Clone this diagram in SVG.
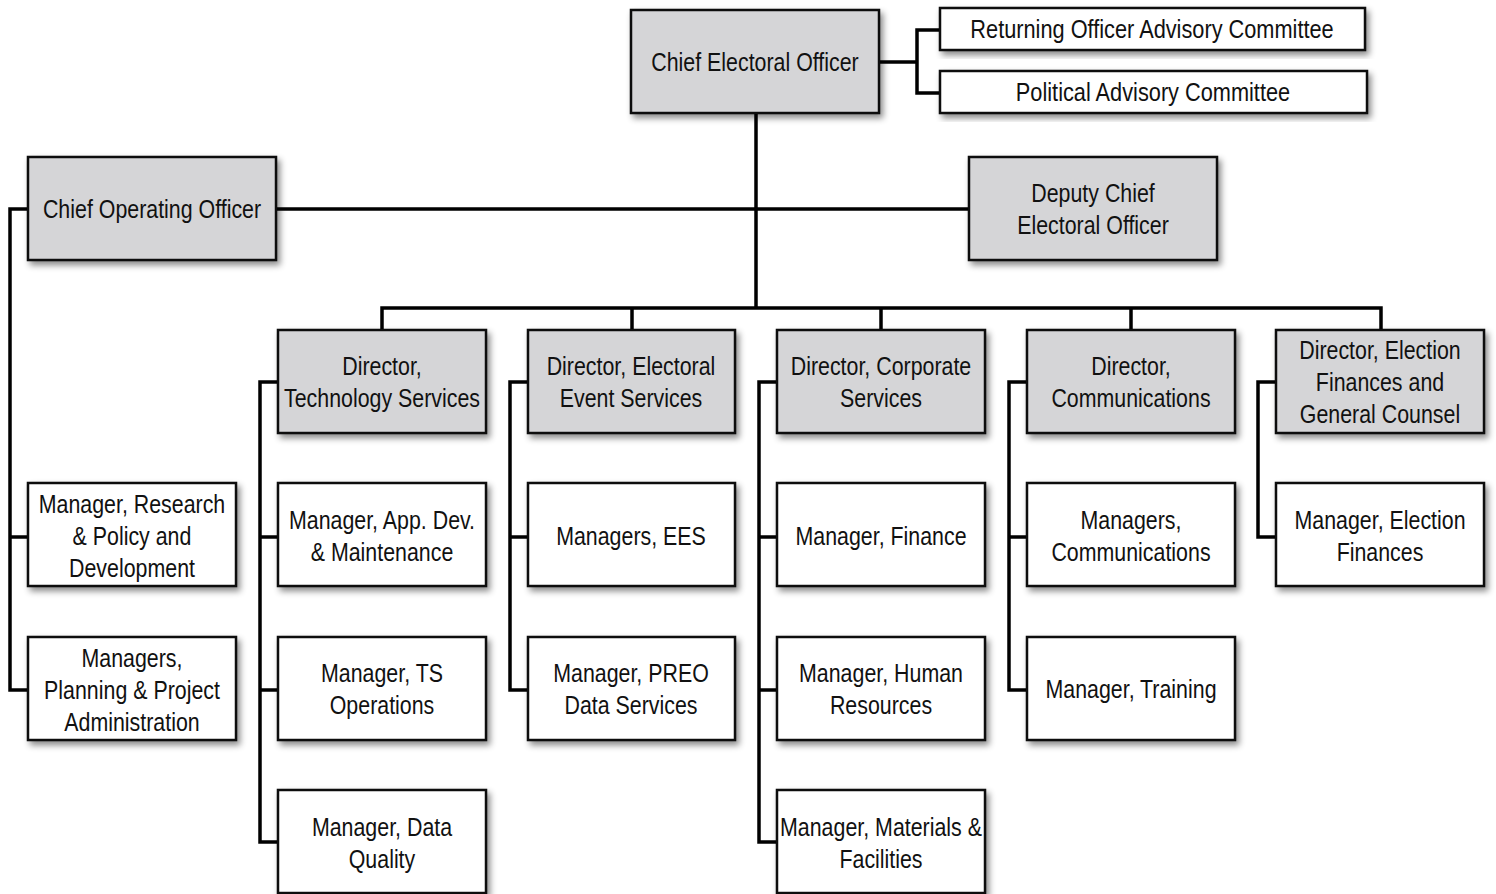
<svg xmlns="http://www.w3.org/2000/svg" width="1496" height="894" viewBox="0 0 1496 894">
<defs>
<filter id="sh" x="-10%" y="-10%" width="125%" height="130%">
<feDropShadow dx="3" dy="4" stdDeviation="3" flood-color="#000" flood-opacity="0.45"/>
</filter>
<style>
.g{fill:#d5d5d7;stroke:#111;stroke-width:2.5;filter:url(#sh)}
.w{fill:#fff;stroke:#111;stroke-width:2.5;filter:url(#sh)}
.c{fill:none;stroke:#000;stroke-width:3.5;stroke-linejoin:miter}
text{font-family:"Liberation Sans",Arial,sans-serif;font-size:25px;fill:#111;text-anchor:middle}
</style>
</defs>
<rect width="1496" height="894" fill="#fff"/>
<g id="connectors">
<path class="c" d="M879 62H917M917 30V93M915.25 30H940M915.25 93H940"/>
<path class="c" d="M756 113V308M276 209H969"/>
<path class="c" d="M28 209H10V690H28M10 537H28"/>
<path class="c" d="M382 330V308H1381V330M632 308V330M881 308V330M1131 308V330"/>
<path class="c" d="M278 382H260V842H278M260 537H278M260 690H278"/>
<path class="c" d="M528 382H510V690H528M510 537H528"/>
<path class="c" d="M777 382H759V842H777M759 537H777M759 690H777"/>
<path class="c" d="M1027 382H1009V690H1027M1009 537H1027"/>
<path class="c" d="M1276 382H1258V537H1276"/>
</g>
<g id="ceo"><rect class="g" x="631" y="10" width="248" height="103"/><g transform="matrix(0.855 0 0 1 755 0)"><text y="71">Chief Electoral Officer</text></g></g>
<g id="roac"><rect class="w" x="940" y="8" width="425" height="42"/><g transform="matrix(0.87 0 0 1 1152 0)"><text y="38">Returning Officer Advisory Committee</text></g></g>
<g id="pac"><rect class="w" x="940" y="71" width="427" height="42"/><g transform="matrix(0.87 0 0 1 1153 0)"><text y="101">Political Advisory Committee</text></g></g>
<g id="coo"><rect class="g" x="28" y="157" width="248" height="103"/><g transform="matrix(0.855 0 0 1 152 0)"><text y="218">Chief Operating Officer</text></g></g>
<g id="dceo"><rect class="g" x="969" y="157" width="248" height="103"/><g transform="matrix(0.855 0 0 1 1093 0)"><text y="202">Deputy Chief</text><text y="234">Electoral Officer</text></g></g>
<g id="d-tech"><rect class="g" x="278" y="330" width="208" height="103"/><g transform="matrix(0.855 0 0 1 382 0)"><text y="375">Director,</text><text y="407">Technology Services</text></g></g>
<g id="d-ees"><rect class="g" x="528" y="330" width="207" height="103"/><g transform="matrix(0.855 0 0 1 631 0)"><text y="375">Director, Electoral</text><text y="407">Event Services</text></g></g>
<g id="d-corp"><rect class="g" x="777" y="330" width="208" height="103"/><g transform="matrix(0.855 0 0 1 881 0)"><text y="375">Director, Corporate</text><text y="407">Services</text></g></g>
<g id="d-comm"><rect class="g" x="1027" y="330" width="208" height="103"/><g transform="matrix(0.855 0 0 1 1131 0)"><text y="375">Director,</text><text y="407">Communications</text></g></g>
<g id="d-fin"><rect class="g" x="1276" y="330" width="208" height="103"/><g transform="matrix(0.855 0 0 1 1380 0)"><text y="359">Director, Election</text><text y="391">Finances and</text><text y="423">General Counsel</text></g></g>
<g id="m-research"><rect class="w" x="28" y="483" width="208" height="103"/><g transform="matrix(0.855 0 0 1 132 0)"><text y="513">Manager, Research</text><text y="545">&amp; Policy and</text><text y="577">Development</text></g></g>
<g id="m-planning"><rect class="w" x="28" y="637" width="208" height="103"/><g transform="matrix(0.855 0 0 1 132 0)"><text y="667">Managers,</text><text y="699">Planning &amp; Project</text><text y="731">Administration</text></g></g>
<g id="m-appdev"><rect class="w" x="278" y="483" width="208" height="103"/><g transform="matrix(0.855 0 0 1 382 0)"><text y="529">Manager, App. Dev.</text><text y="561">&amp; Maintenance</text></g></g>
<g id="m-tsops"><rect class="w" x="278" y="637" width="208" height="103"/><g transform="matrix(0.855 0 0 1 382 0)"><text y="682">Manager, TS</text><text y="714">Operations</text></g></g>
<g id="m-dq"><rect class="w" x="278" y="790" width="208" height="103"/><g transform="matrix(0.855 0 0 1 382 0)"><text y="836">Manager, Data</text><text y="868">Quality</text></g></g>
<g id="m-ees"><rect class="w" x="528" y="483" width="207" height="103"/><g transform="matrix(0.855 0 0 1 631 0)"><text y="545">Managers, EES</text></g></g>
<g id="m-preo"><rect class="w" x="528" y="637" width="207" height="103"/><g transform="matrix(0.855 0 0 1 631 0)"><text y="682">Manager, PREO</text><text y="714">Data Services</text></g></g>
<g id="m-finance"><rect class="w" x="777" y="483" width="208" height="103"/><g transform="matrix(0.855 0 0 1 881 0)"><text y="545">Manager, Finance</text></g></g>
<g id="m-hr"><rect class="w" x="777" y="637" width="208" height="103"/><g transform="matrix(0.855 0 0 1 881 0)"><text y="682">Manager, Human</text><text y="714">Resources</text></g></g>
<g id="m-mat"><rect class="w" x="777" y="790" width="208" height="103"/><g transform="matrix(0.855 0 0 1 881 0)"><text y="836">Manager, Materials &amp;</text><text y="868">Facilities</text></g></g>
<g id="m-comm"><rect class="w" x="1027" y="483" width="208" height="103"/><g transform="matrix(0.855 0 0 1 1131 0)"><text y="529">Managers,</text><text y="561">Communications</text></g></g>
<g id="m-train"><rect class="w" x="1027" y="637" width="208" height="103"/><g transform="matrix(0.855 0 0 1 1131 0)"><text y="698">Manager, Training</text></g></g>
<g id="m-elfin"><rect class="w" x="1276" y="483" width="208" height="103"/><g transform="matrix(0.855 0 0 1 1380 0)"><text y="529">Manager, Election</text><text y="561">Finances</text></g></g>
</svg>
